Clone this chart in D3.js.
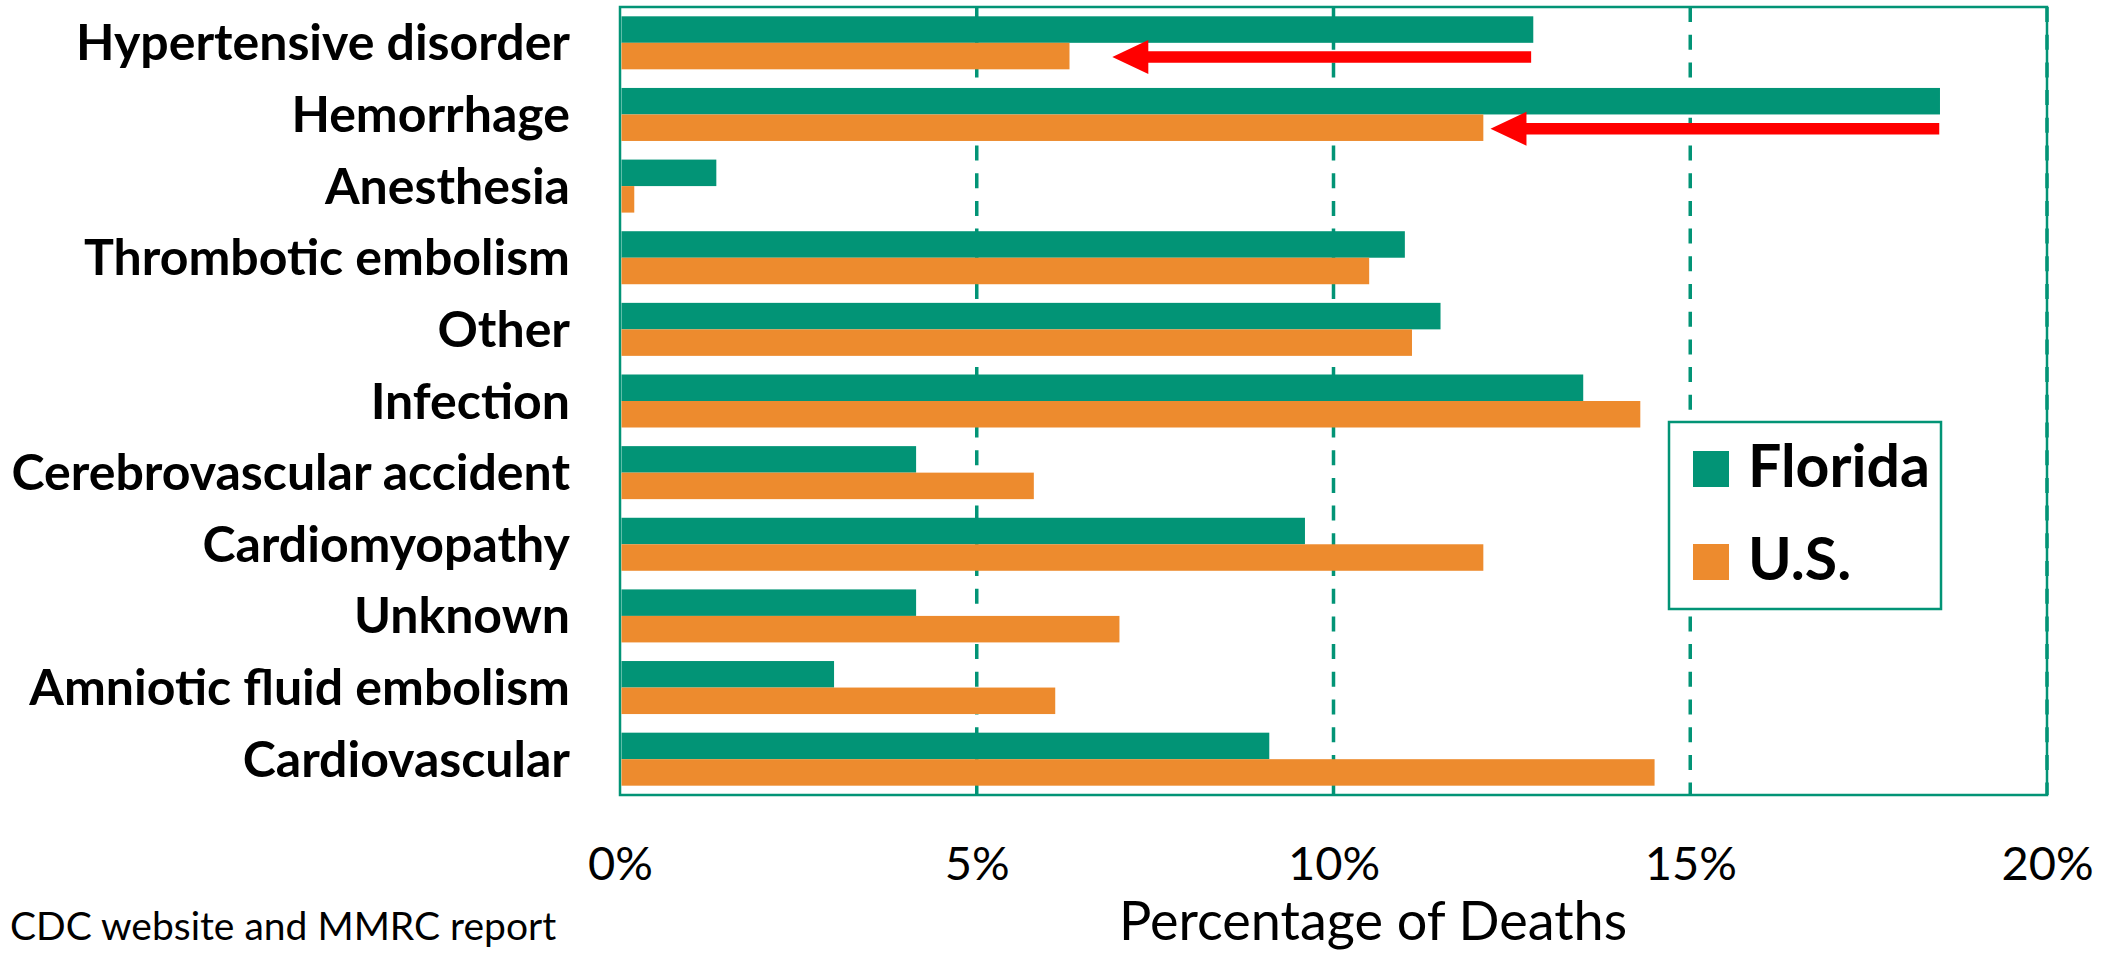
<!DOCTYPE html>
<html>
<head>
<meta charset="utf-8">
<script src="https://cdn.jsdelivr.net/npm/d3@7"></script>
<style>
  body { margin: 0; background: #fff; }
  text { font-family: Lato, "Open Sans", sans-serif; fill: #000; }
</style>
</head>
<body>
<div class="chart"></div>
<script>
// causes of pregnancy-related deaths, Florida vs U.S.
const categories = ["Hypertensive disorder", "Hemorrhage", "Anesthesia", "Thrombotic embolism",
    "Other", "Infection", "Cerebrovascular accident", "Cardiomyopathy", "Unknown",
    "Amniotic fluid embolism", "Cardiovascular"]
const florida = [12.8, 18.5, 1.35, 11.0, 11.5, 13.5, 4.15, 9.6, 4.15, 3.0, 9.1]
const us = [6.3, 12.1, 0.2, 10.5, 11.1, 14.3, 5.8, 12.1, 7.0, 6.1, 14.5]
const seriesNames = ["Florida", "U.S."]
const xTicks = [0, 5, 10, 15, 20]

// red arrows: from Florida value back toward U.S. value
const arrowCats = ["Hypertensive disorder", "Hemorrhage"]
const arrowFrom = [12.77, 18.49]
const arrowTo = [6.9, 12.2]

const width = 2119
const height = 953
const teal = "#029476"
const orange = "#ED8B2E"

const plotL = 620, plotR = 2047, plotT = 7, plotB = 795

const x = d3.scaleLinear().domain([0, 20]).range([plotL, plotR])
const y = d3.scaleBand().domain(categories).range([plotT, plotB])
    .paddingInner(0.26).paddingOuter(0.13)
const y1 = d3.scaleBand().domain(seriesNames).range([0, y.bandwidth()])
const color = d3.scaleOrdinal().domain(seriesNames).range([teal, orange])

const svg = d3.select(".chart").append("svg")
    .attr("width", width)
    .attr("height", height)

// grid lines
svg.append("g")
    .selectAll("line")
    .data(xTicks.filter(d => d > 0))
    .join("line")
    .attr("x1", d => x(d)).attr("x2", d => x(d))
    .attr("y1", plotT).attr("y2", plotB)
    .attr("stroke", teal)
    .attr("stroke-width", 3.5)
    .attr("stroke-dasharray", "15,12.7")

// plot border
svg.append("rect")
    .attr("x", plotL).attr("y", plotT)
    .attr("width", plotR - plotL).attr("height", plotB - plotT)
    .attr("fill", "none")
    .attr("stroke", teal)
    .attr("stroke-width", 2.5)

// bars
const rows = categories.map((c, i) => ({ cat: c, values: [florida[i], us[i]] }))

svg.append("g")
    .selectAll("g")
    .data(rows)
    .join("g")
    .attr("transform", d => `translate(0,${y(d.cat)})`)
    .selectAll("rect")
    .data(d => d.values.map((v, j) => ({ key: seriesNames[j], value: v })))
    .join("rect")
    .attr("x", x(0) + 1.5)
    .attr("y", d => y1(d.key))
    .attr("width", d => x(d.value) - x(0) - 1.5)
    .attr("height", y1.bandwidth())
    .attr("fill", d => color(d.key))

// category labels
const yAxis = svg.append("g")
    .attr("transform", `translate(${plotL},0)`)
    .call(d3.axisLeft(y).tickSize(0).tickPadding(50))
yAxis.select(".domain").remove()
yAxis.selectAll("text")
    .style("font-family", "Lato, sans-serif")
    .attr("font-size", 50)
    .attr("font-weight", 700)
    .attr("fill", "#000")
    .attr("dy", "0.35em")

// x tick labels
const xAxis = svg.append("g")
    .attr("transform", `translate(0,${plotB})`)
    .call(d3.axisBottom(x).tickValues(xTicks).tickFormat(d => d + "%").tickSize(0).tickPadding(0))
xAxis.select(".domain").remove()
xAxis.selectAll("text")
    .style("font-family", "Lato, sans-serif")
    .attr("font-size", 47)
    .attr("fill", "#000")
    .attr("y", 85)
    .attr("dy", 0)

// axis title and source
svg.append("text")
    .attr("x", 1373).attr("y", 940)
    .attr("text-anchor", "middle")
    .attr("font-size", 54)
    .text("Percentage of Deaths")

svg.append("text")
    .attr("x", 10).attr("y", 940)
    .attr("font-size", 39)
    .text("CDC website and MMRC report")

// arrows
const shaft = 11.6, headH = 34, headL = 36
svg.append("g")
    .selectAll("path")
    .data(arrowCats.map((c, i) => ({ cat: c, from: arrowFrom[i], to: arrowTo[i] })))
    .join("path")
    .attr("d", d => {
        const cy = y(d.cat) + y1("U.S.") + y1.bandwidth() / 2 + 1
        const x0 = x(d.from), xt = x(d.to), xh = xt + headL
        return `M${xt},${cy} L${xh},${cy - headH / 2} L${xh},${cy - shaft / 2} L${x0},${cy - shaft / 2}` +
            ` L${x0},${cy + shaft / 2} L${xh},${cy + shaft / 2} L${xh},${cy + headH / 2} Z`
    })
    .attr("fill", "#FF0000")

// legend
const legend = svg.append("g")
legend.append("rect")
    .attr("x", 1669).attr("y", 422)
    .attr("width", 272).attr("height", 187)
    .attr("fill", "#fff")
    .attr("stroke", teal)
    .attr("stroke-width", 2.5)

const item = legend.selectAll("g.item")
    .data(seriesNames)
    .join("g")
    .attr("class", "item")
    .attr("transform", (d, i) => `translate(1693,${451 + i * 93})`)
item.append("rect")
    .attr("width", 36).attr("height", 36)
    .attr("fill", d => color(d))
item.append("text")
    .attr("x", 55).attr("y", 36)
    .attr("font-size", 59)
    .attr("font-weight", 700)
    .text(d => d)
</script>
</body>
</html>
